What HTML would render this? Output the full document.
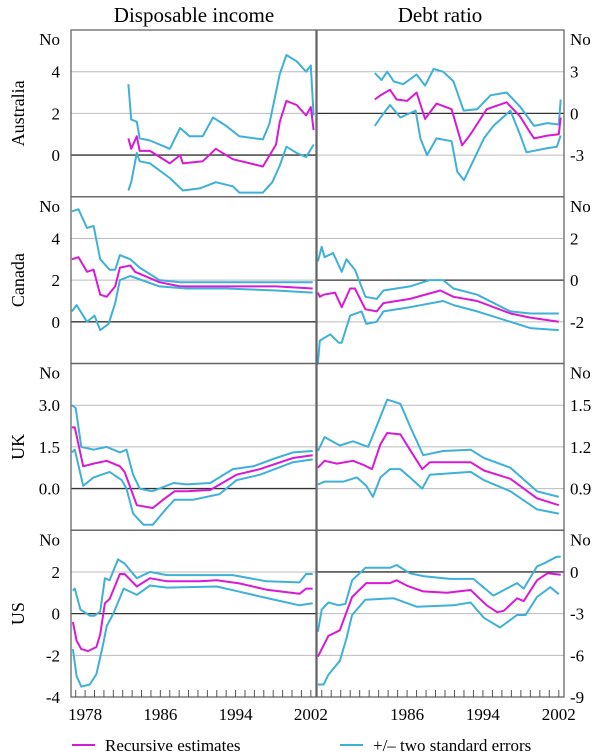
<!DOCTYPE html>
<html><head><meta charset="utf-8">
<style>
html,body{margin:0;padding:0;background:#fff;}
svg{display:block;font-family:"Liberation Serif",serif;}
</style></head>
<body>
<svg id="chart" width="600" height="755" viewBox="0 0 600 755" xmlns="http://www.w3.org/2000/svg">
  <text x="194" y="22" font-size="21" text-anchor="middle">Disposable income</text>
  <text x="440" y="22" font-size="21" text-anchor="middle">Debt ratio</text>
  <g id="panels"></g>
  <g>
    <line x1="72" y1="745" x2="95" y2="745" stroke="#d61ad6" stroke-width="2"/>
    <text x="105" y="751" font-size="17">Recursive estimates</text>
    <line x1="340" y1="745" x2="363" y2="745" stroke="#3fb0d8" stroke-width="2"/>
    <text x="373" y="751" font-size="17">+/– two standard errors</text>
  </g>
</svg>
<script>
// ---- data: [year, value] ----
const countries = ["Australia","Canada","UK","US"];
const xTickYearsLeft = [1978,1986,1994,2002];
const xTickYearsRight = [1986,1994,2002];

const ausDiUp = [[1982.6,3.4],[1982.9,1.7],[1983.5,1.6],[1983.8,0.8],[1984.9,0.7],[1987.0,0.3],[1988.1,1.3],[1989.1,0.9],[1990.5,0.9],[1991.6,1.8],[1993.0,1.4],[1994.4,0.9],[1996.9,0.75],[1997.6,1.5],[1998.7,3.9],[1999.4,4.8],[2000.5,4.5],[2001.5,4.0],[2002.0,4.3],[2002.3,1.9]];
const ausDiMid = [[1982.6,0.8],[1982.9,0.3],[1983.5,0.9],[1983.8,0.2],[1984.9,0.2],[1987.0,-0.4],[1988.1,0.0],[1988.4,-0.4],[1990.5,-0.3],[1991.9,0.3],[1993.7,-0.2],[1996.9,-0.55],[1998.3,0.5],[1998.7,1.6],[1999.4,2.6],[2000.5,2.4],[2001.5,1.9],[2002.0,2.3],[2002.3,1.2]];
const ausDiLow = [[1982.6,-1.7],[1982.9,-1.3],[1983.5,0.1],[1983.8,-0.3],[1984.9,-0.4],[1987.0,-1.1],[1988.4,-1.7],[1990.2,-1.6],[1991.9,-1.3],[1993.7,-1.5],[1994.4,-1.8],[1996.9,-1.8],[1997.9,-1.3],[1998.7,-0.5],[1999.4,0.4],[2000.5,0.1],[2001.5,-0.1],[2002.3,0.5]];

const ausDebtUp = [[1982.6,2.9],[1983.3,2.4],[1983.9,3.0],[1984.6,2.3],[1985.6,2.1],[1987.0,2.8],[1987.9,2.0],[1988.8,3.2],[1989.8,3.0],[1990.9,2.3],[1991.96,0.2],[1993.4,0.3],[1994.8,1.3],[1996.5,1.5],[1997.9,0.5],[1999.4,-0.9],[2000.8,-0.7],[2002.0,-0.8],[2002.2,1.0]];
const ausDebtMid = [[1982.6,1.0],[1983.2,1.3],[1984.2,1.7],[1984.9,1.0],[1986.0,0.9],[1987.0,1.5],[1987.9,-0.4],[1989.1,0.7],[1990.7,0.3],[1991.8,-2.3],[1992.7,-1.5],[1994.4,0.3],[1996.5,0.8],[1997.9,-0.2],[1999.0,-1.4],[1999.4,-1.8],[2000.8,-1.6],[2002.0,-1.5],[2002.2,-0.3]];
const ausDebtLow = [[1982.6,-0.9],[1983.2,-0.3],[1984.2,0.6],[1985.3,-0.3],[1986.9,0.2],[1987.4,-1.8],[1988.1,-3.0],[1989.1,-1.8],[1990.7,-2.0],[1991.3,-4.2],[1992.0,-4.8],[1993.0,-3.4],[1994.1,-1.8],[1995.1,-0.9],[1996.9,0.2],[1997.9,-1.5],[1998.6,-2.8],[2000.8,-2.5],[2001.8,-2.4],[2002.2,-1.6]];

const canDiUp = [[1976.6,5.3],[1977.3,5.4],[1978.2,4.5],[1978.9,4.6],[1979.6,3.0],[1980.6,2.5],[1981.2,2.5],[1981.7,3.2],[1982.8,3.0],[1983.8,2.6],[1985.9,2.0],[1988.1,1.9],[1993.0,1.9],[1998.3,1.9],[2002.2,1.9]];
const canDiMid = [[1976.6,3.0],[1977.3,3.1],[1978.2,2.4],[1978.9,2.5],[1979.6,1.3],[1980.3,1.2],[1981.2,1.7],[1981.7,2.6],[1982.8,2.7],[1983.3,2.4],[1985.9,1.9],[1988.1,1.7],[1993.0,1.7],[1998.3,1.7],[2002.2,1.6]];
const canDiLow = [[1976.6,0.5],[1977.1,0.8],[1978.2,0.0],[1979.0,0.3],[1979.6,-0.4],[1980.5,-0.1],[1981.2,0.9],[1981.7,2.0],[1982.8,2.2],[1985.9,1.7],[1988.8,1.6],[1993.0,1.6],[1998.3,1.5],[2002.2,1.4]];

const canDebtUp = [[1976.6,0.9],[1977.0,1.6],[1977.3,1.1],[1978.2,1.3],[1979.1,0.4],[1979.6,1.0],[1980.5,0.5],[1981.6,-0.8],[1982.8,-0.9],[1983.5,-0.5],[1986.3,-0.3],[1988.4,0.0],[1989.8,0.0],[1990.9,-0.4],[1993.4,-0.7],[1996.9,-1.5],[1999.0,-1.6],[2002.0,-1.6]];
const canDebtMid = [[1976.6,-0.6],[1976.8,-0.8],[1977.2,-0.7],[1978.4,-0.6],[1979.1,-1.3],[1980.0,-0.4],[1980.5,-0.4],[1981.6,-1.4],[1982.8,-1.5],[1983.5,-1.1],[1986.3,-0.9],[1989.5,-0.5],[1990.9,-0.8],[1993.4,-1.0],[1996.9,-1.6],[1999.0,-1.8],[2002.0,-2.0]];
const canDebtLow = [[1976.6,-4.0],[1976.8,-2.9],[1977.9,-2.6],[1978.8,-3.0],[1979.1,-3.0],[1980.0,-1.7],[1981.2,-1.5],[1981.7,-2.1],[1982.8,-2.0],[1983.5,-1.5],[1986.3,-1.3],[1989.8,-1.0],[1990.9,-1.2],[1993.4,-1.5],[1996.9,-2.0],[1999.0,-2.3],[2002.0,-2.4]];

const ukDiUp = [[1976.6,3.0],[1977.0,2.9],[1977.6,1.5],[1978.9,1.4],[1980.3,1.5],[1981.7,1.3],[1982.4,1.4],[1983.1,0.5],[1983.8,0.0],[1985.1,-0.1],[1985.9,0.0],[1987.4,0.2],[1988.8,0.15],[1991.3,0.2],[1993.7,0.7],[1995.9,0.8],[1998.3,1.1],[2000.1,1.3],[2002.2,1.35]];
const ukDiMid = [[1976.6,2.2],[1976.9,2.2],[1977.8,0.8],[1978.9,0.9],[1980.3,1.0],[1981.7,0.8],[1982.2,0.6],[1983.5,-0.6],[1985.2,-0.7],[1986.3,-0.4],[1987.5,-0.1],[1988.8,-0.1],[1991.3,-0.05],[1994.1,0.5],[1996.6,0.7],[2000.1,1.1],[2002.2,1.2]];
const ukDiLow = [[1976.6,1.3],[1976.9,1.4],[1977.8,0.1],[1978.9,0.4],[1980.6,0.6],[1981.9,0.3],[1982.4,0.0],[1983.1,-0.9],[1984.2,-1.3],[1985.2,-1.3],[1986.7,-0.7],[1987.5,-0.4],[1989.5,-0.4],[1992.3,-0.2],[1994.1,0.3],[1996.6,0.5],[2000.1,0.95],[2002.2,1.05]];

const ukDebtUp = [[1976.6,1.17],[1977.3,1.27],[1978.9,1.21],[1980.3,1.24],[1981.9,1.2],[1982.8,1.35],[1983.9,1.54],[1985.3,1.51],[1986.3,1.35],[1987.7,1.14],[1989.8,1.17],[1992.7,1.18],[1994.1,1.12],[1996.9,1.05],[1999.7,0.88],[2002.0,0.84]];
const ukDebtMid = [[1976.6,1.05],[1977.3,1.1],[1978.6,1.08],[1980.3,1.1],[1981.4,1.07],[1982.3,1.04],[1983.2,1.22],[1983.9,1.3],[1985.3,1.29],[1986.3,1.18],[1987.6,1.04],[1988.4,1.09],[1992.7,1.09],[1994.1,1.03],[1996.9,0.97],[1999.7,0.83],[2002.0,0.78]];
const ukDebtLow = [[1976.6,0.93],[1977.3,0.95],[1979.3,0.95],[1980.7,0.98],[1981.7,0.92],[1982.4,0.84],[1983.2,0.98],[1984.2,1.04],[1985.3,1.04],[1986.3,0.98],[1987.6,0.9],[1988.4,1.0],[1992.7,1.02],[1994.1,0.96],[1996.9,0.88],[1999.7,0.75],[2002.0,0.72]];

const usDiUp = [[1976.7,1.1],[1976.9,1.2],[1977.5,0.2],[1978.5,-0.1],[1979.0,-0.1],[1979.6,0.1],[1980.1,1.7],[1980.6,1.6],[1981.5,2.6],[1982.2,2.4],[1983.5,1.7],[1984.9,2.0],[1986.7,1.85],[1990.2,1.85],[1993.7,1.85],[1997.3,1.55],[2000.8,1.5],[2001.5,1.9],[2002.2,1.9]];
const usDiMid = [[1976.7,-0.4],[1977.1,-1.3],[1977.6,-1.7],[1978.3,-1.8],[1979.2,-1.6],[1979.6,-1.0],[1980.1,0.5],[1980.6,0.7],[1981.7,1.9],[1982.2,1.9],[1983.5,1.3],[1984.9,1.7],[1986.7,1.55],[1990.2,1.55],[1992.0,1.6],[1994.4,1.45],[1997.3,1.15],[2000.8,0.95],[2001.5,1.2],[2002.2,1.2]];
const usDiLow = [[1976.7,-1.7],[1977.1,-3.0],[1977.6,-3.5],[1978.5,-3.4],[1979.2,-2.9],[1979.9,-1.5],[1980.3,-0.6],[1981.0,0.0],[1982.1,1.2],[1983.5,0.9],[1984.9,1.35],[1986.7,1.25],[1992.0,1.3],[1994.4,1.05],[1997.3,0.75],[2000.8,0.4],[2002.2,0.5]];

const usDebtUp = [[1976.6,-4.3],[1977.0,-2.7],[1977.7,-2.2],[1978.8,-2.4],[1979.5,-2.3],[1980.2,-0.6],[1981.6,0.3],[1984.2,0.3],[1984.9,0.5],[1986.3,-0.1],[1987.7,-0.3],[1990.5,-0.5],[1993.0,-0.5],[1995.1,-1.7],[1996.5,-1.2],[1997.6,-0.8],[1998.3,-1.2],[1999.7,0.4],[2000.4,0.6],[2001.8,1.1],[2002.2,1.1]];
const usDebtMid = [[1976.6,-6.1],[1977.7,-4.6],[1978.9,-4.2],[1980.2,-1.8],[1981.7,-0.8],[1984.2,-0.8],[1984.9,-0.6],[1986.0,-1.0],[1987.7,-1.4],[1990.2,-1.5],[1992.7,-1.3],[1994.4,-2.4],[1995.5,-2.9],[1996.2,-2.8],[1997.6,-1.9],[1998.3,-2.1],[1999.7,-0.6],[2000.8,-0.1],[2002.2,-0.2]];
const usDebtLow = [[1976.6,-8.1],[1977.2,-8.1],[1977.7,-7.4],[1978.9,-6.4],[1979.6,-4.8],[1980.2,-3.1],[1981.6,-2.0],[1984.6,-1.9],[1987.0,-2.5],[1990.9,-2.4],[1992.7,-2.2],[1994.1,-3.3],[1995.8,-4.0],[1997.6,-3.1],[1998.5,-3.1],[1999.7,-1.8],[2001.1,-1.1],[2002.0,-1.6]];

const leftDomains = [[-2,6],[-2,6],[-1.5,4.5],[-4,4]];
const rightDomains = [[-6,6],[-4,4],[0.6,1.8],[-9,3]];
const leftTicks = [[0,2,4],[0,2,4],[0,1.5,3],[-4,-2,0,2]];
const leftTickLabels = [["0","2","4"],["0","2","4"],["0.0","1.5","3.0"],["-4","-2","0","2"]];
const rightTicks = [[-3,0,3],[-2,0,2],[0.9,1.2,1.5],[-9,-6,-3,0]];
const rightTickLabels = [["-3","0","3"],["-2","0","2"],["0.9","1.2","1.5"],["-9","-6","-3","0"]];
const leftSeries = [[ausDiUp,ausDiMid,ausDiLow],[canDiUp,canDiMid,canDiLow],[ukDiUp,ukDiMid,ukDiLow],[usDiUp,usDiMid,usDiLow]];
const rightSeries = [[ausDebtUp,ausDebtMid,ausDebtLow],[canDebtUp,canDebtMid,canDebtLow],[ukDebtUp,ukDebtMid,ukDebtLow],[usDebtUp,usDebtMid,usDebtLow]];

// ---- layout ----
const NS = "http://www.w3.org/2000/svg";
const g = document.getElementById("panels");
const TOP = 30, ROWH = 166.75;
const cols = [{x0:71,x1:316},{x0:317,x1:564}];
const YMIN = 1976.5, YMAX = 2002.55;
function mk(tag, attrs){ const e=document.createElementNS(NS,tag); for(const k in attrs) e.setAttribute(k,attrs[k]); g.appendChild(e); return e; }
function xScale(col, yr){ return col.x0 + (yr-YMIN)/(YMAX-YMIN)*(col.x1-col.x0); }
function yScale(top, dom, v){ return top + ROWH - (v-dom[0])/(dom[1]-dom[0])*ROWH; }
const seriesColors = ["#3fb0d8","#d61ad6","#3fb0d8"];
const seriesNames = ["upper-band","recursive-estimate","lower-band"];

for(let r=0;r<4;r++){
  const top = TOP + r*ROWH, bot = top+ROWH;
  [0,1].forEach(ci=>{
    const col = cols[ci];
    const dom = ci===0 ? leftDomains[r] : rightDomains[r];
    const ticks = ci===0 ? leftTicks[r] : rightTicks[r];
    const labels = ci===0 ? leftTickLabels[r] : rightTickLabels[r];
    const side = ci===0 ? "di" : "debt";
    const cname = countries[r].toLowerCase();
    ticks.forEach((t,i)=>{
      const y = yScale(top,dom,t);
      if (y < bot-1) {
        const ln = mk("line",{x1:col.x0,x2:col.x1,y1:y,y2:y,stroke:t===0?"#333":"#bbb","stroke-width":t===0?1.3:1});
        
        
      }
      const tx = mk("text",{x:ci===0?60:570,y:y+6,"font-size":17,"text-anchor":ci===0?"end":"start"});
      tx.textContent = labels[i];
      
      
    });
    const no = mk("text",{x:ci===0?60:570,y:top+15,"font-size":17,"text-anchor":ci===0?"end":"start"});
    no.textContent = "No";
    
    
    const ser = ci===0 ? leftSeries[r] : rightSeries[r];
    ser.forEach((s,si)=>{
      const d = s.map((p,i)=>(i?"L":"M")+xScale(col,p[0]).toFixed(1)+","+yScale(top,dom,p[1]).toFixed(1)).join("");
      const p = mk("path",{d:d,fill:"none",stroke:seriesColors[si],"stroke-width":2,"stroke-linejoin":"round"});
      
      
    });
    const fr = mk("rect",{x:col.x0,y:top,width:col.x1-col.x0,height:ROWH,fill:"none",stroke:"#666","stroke-width":1.3});
    
    
    if (r===3) {
      for(let yr=1977; yr<=2002; yr++){
        const x = xScale(col,yr);
        const tk = mk("line",{x1:x,x2:x,y1:bot,y2:bot-7,stroke:"#555","stroke-width":1});
        
        
      }
      const yrs = ci===0 ? xTickYearsLeft : xTickYearsRight;
      yrs.forEach(yr=>{
        const tl = mk("text",{x:xScale(col,yr),y:bot+23,"font-size":17,"text-anchor":"middle"});
        tl.textContent = String(yr);
        
        
      });
    }
  });
  const cl = mk("text",{x:0,y:0,"font-size":18,"text-anchor":"middle",transform:"translate(24,"+(top+ROWH/2)+") rotate(-90)"});
  cl.textContent = countries[r];
  
  
}
</script>
</body></html>
